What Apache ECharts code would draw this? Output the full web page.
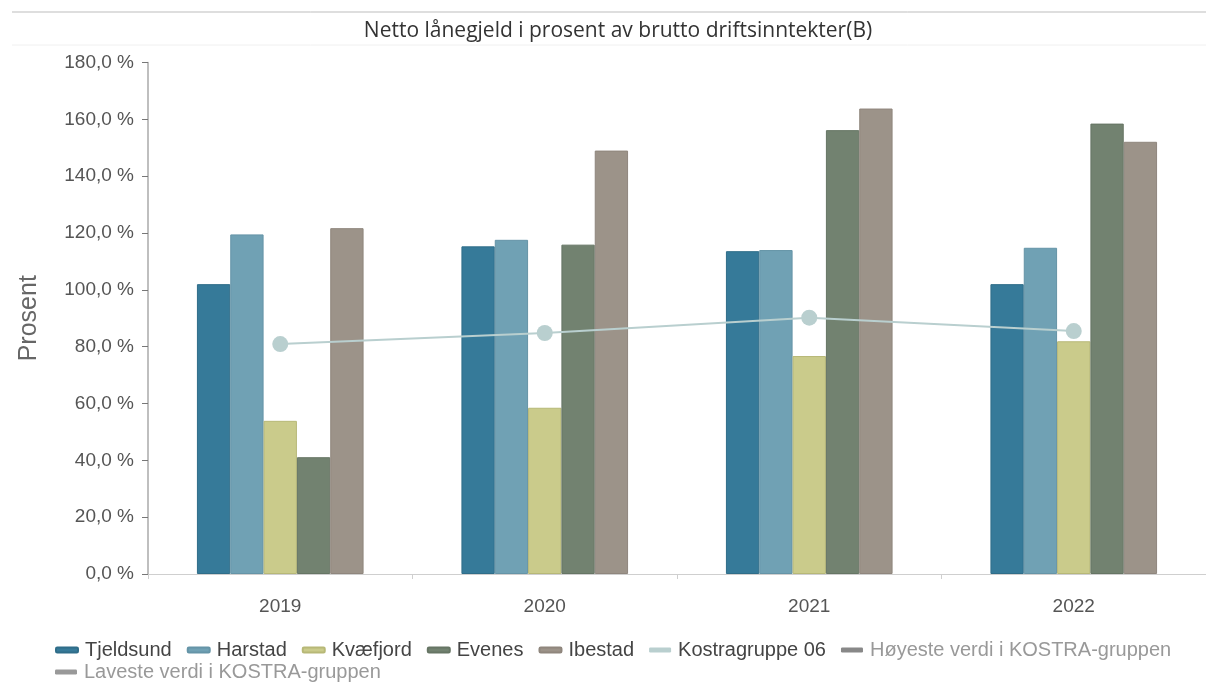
<!DOCTYPE html>
<html>
<head>
<meta charset="utf-8">
<script src="https://cdn.jsdelivr.net/npm/echarts@6/dist/echarts.min.js"></script>
<style>
  html, body { margin: 0; padding: 0; background: #fff; }
  #chart { width: 1206px; height: 682px; }
</style>
</head>
<body>
<div id="chart"></div>
<script>
// data
const years = ["2019", "2020", "2021", "2022"];
const tjeldsund = [102.0, 115.3, 113.6, 102.0];
const harstad = [119.5, 117.6, 114.0, 114.8];
const kvaefjord = [53.9, 58.5, 76.7, 81.9];
const evenes = [41.1, 115.9, 156.2, 158.5];
const ibestad = [121.7, 149.0, 163.8, 152.1];
const kostragruppe = [80.9, 84.8, 90.2, 85.5];
const yTicks = [0, 20, 40, 60, 80, 100, 120, 140, 160, 180];

const chart = echarts.init(document.getElementById("chart"));

// bar series helper
const bar = (name, data, color, border) => ({
  name: name,
  type: "bar",
  data: data,
  barGap: 0,
  barCategoryGap: "37%",
  itemStyle: { color: color, borderColor: border, borderWidth: 1 },
  emphasis: { disabled: true },
});

// legend look, shared by both rows
const legendBase = {
  left: 50,
  itemWidth: 22,
  itemHeight: 5,
  itemGap: 15,
  icon: "roundRect",
  textStyle: { fontFamily: "Liberation Sans", fontSize: 20, color: "#444", padding: [0, 0, 0, 2] },
};

const option = {
  animation: false,
  title: {
    text: "Netto lånegjeld i prosent av brutto driftsinntekter(B)",
    left: 613,
    textAlign: "center",
    top: 16,
    textStyle: {
      fontFamily: "Open Sans",
      fontSize: 21,
      fontWeight: "normal",
      color: "#333",
    },
  },
  graphic: [
    { type: "line", shape: { x1: 12, y1: 12, x2: 1206, y2: 12 }, style: { stroke: "#bdbdbd", lineWidth: 1 } },
    { type: "line", shape: { x1: 12, y1: 45, x2: 1206, y2: 45 }, style: { stroke: "#f0f0f0", lineWidth: 1 } },
  ],
  legend: [
    Object.assign({}, legendBase, {
      top: 635,
      data: [
        "Tjeldsund",
        "Harstad",
        "Kvæfjord",
        "Evenes",
        "Ibestad",
        "Kostragruppe 06",
        { name: "Høyeste verdi i KOSTRA-gruppen", textStyle: { color: "#999" } },
      ],
    }),
    Object.assign({}, legendBase, {
      top: 657,
      data: [{ name: "Laveste verdi i KOSTRA-gruppen", textStyle: { color: "#999" } }],
    }),
  ],
  grid: { left: 148, top: 62.5, width: 1063, height: 511.5 },
  xAxis: {
    type: "category",
    data: years,
    axisLine: { lineStyle: { color: "#cfcfcf", width: 1 } },
    axisTick: { show: true, length: 5, lineStyle: { color: "#cfcfcf" } },
    axisLabel: { fontFamily: "Liberation Sans", fontSize: 19, color: "#555", margin: 23 },
  },
  yAxis: {
    type: "value",
    min: 0,
    max: 180,
    interval: 20,
    name: "Prosent",
    nameLocation: "middle",
    nameGap: 106,
    nameRotate: 90,
    nameTextStyle: { fontFamily: "Liberation Sans", fontSize: 25, color: "#666" },
    splitLine: { show: false },
    axisLine: { show: true, lineStyle: { color: "#aaa", width: 1.5 } },
    axisTick: { show: true, length: 6, lineStyle: { color: "#777" } },
    axisLabel: {
      fontFamily: "Liberation Sans",
      fontSize: 19,
      color: "#555",
      margin: 14,
      customValues: yTicks,
      formatter: (v) => v.toFixed(1).replace(".", ",") + " %",
    },
  },
  series: [
    bar("Tjeldsund", tjeldsund, "#367a99", "#2f6d89"),
    bar("Harstad", harstad, "#70a1b4", "#6594a7"),
    bar("Kvæfjord", kvaefjord, "#cacb8b", "#b7b877"),
    bar("Evenes", evenes, "#728270", "#667564"),
    bar("Ibestad", ibestad, "#9c9389", "#8f867d"),
    {
      name: "Kostragruppe 06",
      type: "line",
      data: kostragruppe,
      symbol: "circle",
      symbolSize: 16,
      z: 5,
      itemStyle: { color: "#b9cfcf" },
      lineStyle: { color: "#b9cfcf", width: 2 },
      emphasis: { disabled: true },
    },
    { name: "Høyeste verdi i KOSTRA-gruppen", type: "line", data: [], itemStyle: { color: "#888" } },
    { name: "Laveste verdi i KOSTRA-gruppen", type: "line", data: [], itemStyle: { color: "#999" } },
  ],
};

chart.setOption(option);
</script>
</body>
</html>
